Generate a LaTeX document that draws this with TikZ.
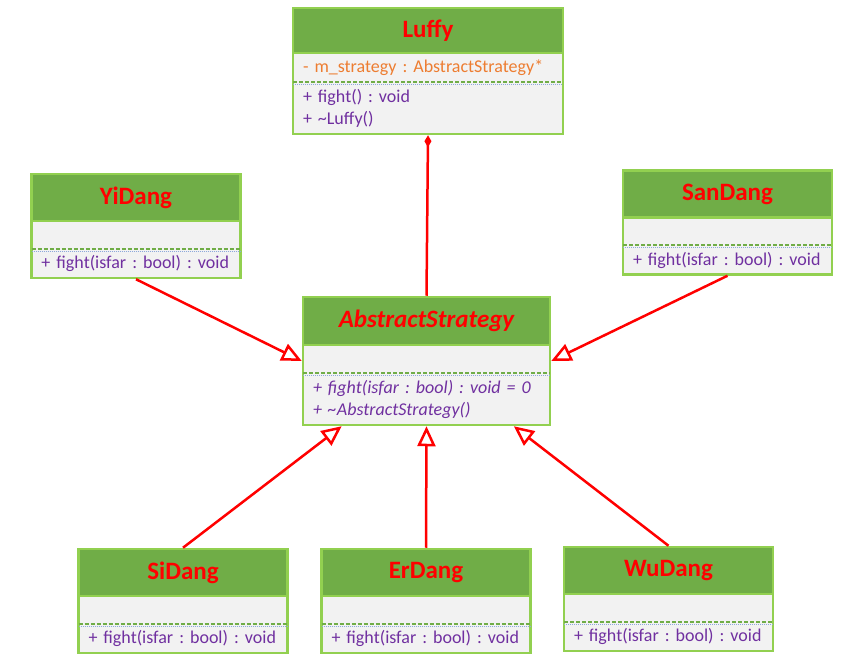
\documentclass[tikz,border=0pt]{standalone}
\usepackage{fontspec}
\setmainfont{Carlito}
\frenchspacing
\usetikzlibrary{arrows.meta,positioning,fit,calc}
\definecolor{hdgreen}{HTML}{70AD47}
\definecolor{lngreen}{HTML}{92D050}
\definecolor{bodygray}{HTML}{F2F2F2}
\definecolor{attrorange}{HTML}{ED7D31}
\definecolor{methpurple}{HTML}{7030A0}
\definecolor{dotblue}{HTML}{8EA9DB}
\tikzset{head/.style={fill=hdgreen,draw=lngreen,line width=2.5pt,text=red,font=\fontsize{25}{28}\selectfont\bfseries,minimum height=47pt,inner sep=0pt,outer sep=0pt},part/.style={fill=bodygray,inner xsep=10pt,inner ysep=0pt,outer sep=0pt,align=left,text=methpurple,font=\fontsize{18}{22}\selectfont},frame/.style={draw=lngreen,line width=2.5pt,inner sep=0pt},sepg/.style={draw=hdgreen,line width=2pt,dash pattern=on 4pt off 2pt},sepb/.style={draw=dotblue,line width=1pt,dash pattern=on 1pt off 1pt},inherit/.style={draw=red,line width=2.5pt,-{Triangle[open,length=20pt,width=18pt]}},owns/.style={draw=red,line width=2.5pt,{Diamond[length=12pt,width=7pt]}-}}
\begin{document}
\begin{tikzpicture}[x=1pt,y=-1pt]
\fill[white] (0,0) rectangle (844,668);
\useasboundingbox (0,0) rectangle (844,668);
% context class
\node[head,minimum width=270pt,minimum height=45pt] (Luffy) at (428,30.5) {Luffy};
\node[part,text width=250pt,minimum height=29pt,below=0pt of Luffy,text=attrorange] (Luffy-a) {- m\_strategy : AbstractStrategy*};
\node[part,text width=250pt,minimum height=52pt,below=0pt of Luffy-a] (Luffy-m) {+ fight() : void\\+ \textasciitilde Luffy()};
\node[frame,fit=(Luffy)(Luffy-m)] (Luffy-box) {};
\draw[frame] (Luffy.south west) -- (Luffy.south east);
\draw[sepg] (Luffy-a.south west) -- (Luffy-a.south east);
\draw[sepb] ([yshift=-2.5pt]Luffy-a.south west) -- ([yshift=-2.5pt]Luffy-a.south east);
% abstract strategy
\node[head,minimum width=247pt,minimum height=48pt,font=\fontsize{25}{28}\selectfont\bfseries\itshape] (AS) at (426.5,321) {AbstractStrategy};
\node[part,text width=227pt,minimum height=28pt,below=0pt of AS] (AS-a) {};
\node[part,text width=227pt,minimum height=52pt,below=0pt of AS-a,font=\fontsize{18}{22}\selectfont\itshape] (AS-m) {+ fight(isfar : bool) : void = 0\\+ \textasciitilde AbstractStrategy()};
\node[frame,fit=(AS)(AS-m)] (AS-box) {};
\draw[frame] (AS.south west) -- (AS.south east);
\draw[sepg] (AS-a.south west) -- (AS-a.south east);
\draw[sepb] ([yshift=-2.5pt]AS-a.south west) -- ([yshift=-2.5pt]AS-a.south east);
% concrete strategies
\foreach \n/\x/\y in {YiDang/136/197.5,SanDang/727.5/194,SiDang/183/572.5,ErDang/426/572.5,WuDang/668.5/570.5}{
  \node[head,minimum width=209pt] (\n) at (\x,\y) {\n};
  \node[part,text width=189pt,minimum height=28pt,below=0pt of \n] (\n-a) {};
  \node[part,text width=189pt,minimum height=29pt,below=0pt of \n-a] (\n-m) {\mbox{+ fight(isfar : bool) : void}};
  \node[frame,fit=(\n)(\n-m)] (\n-box) {};
  \draw[frame] (\n.south west) -- (\n.south east);
  \draw[sepg] (\n-a.south west) -- (\n-a.south east);
  \draw[sepb] ([yshift=-2.5pt]\n-a.south west) -- ([yshift=-2.5pt]\n-a.south east);
}
\draw[owns] (Luffy-box.south) -- (AS-box.north);
\draw[inherit] (YiDang-box.south) -- (AS-box.west);
\draw[inherit] (SanDang-box.south) -- (AS-box.east);
\draw[inherit] (SiDang-box.north) -- ($(AS-box.south west)!0.16!(AS-box.south east)$);
\draw[inherit] (ErDang-box.north) -- (AS-box.south);
\draw[inherit] (WuDang-box.north) -- ($(AS-box.south west)!0.85!(AS-box.south east)$);
\end{tikzpicture}
\end{document}
